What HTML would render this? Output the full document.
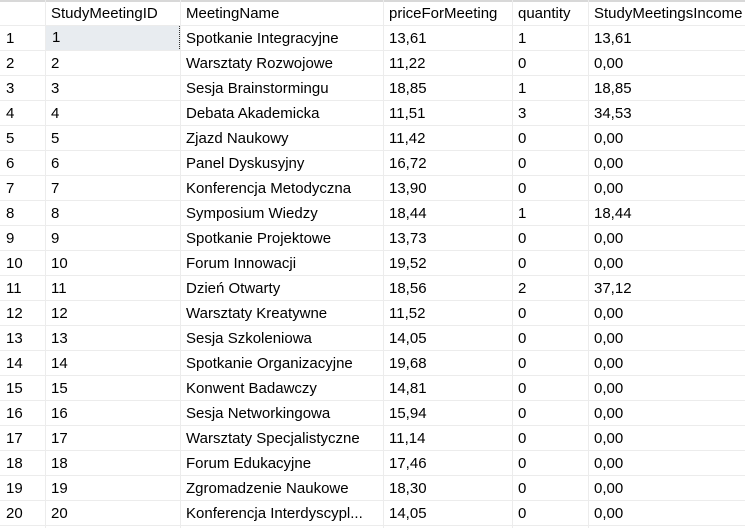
<!DOCTYPE html>
<html><head><meta charset="utf-8"><style>
html,body{margin:0;width:745px;height:528px;overflow:hidden}
body{background:#fff;font-family:"Liberation Sans",sans-serif;font-size:15px;color:#000;position:relative}
.c{position:absolute;height:25px;line-height:25px;white-space:nowrap;overflow:hidden;box-sizing:border-box;padding-left:6px}
.vl{position:absolute;top:0;width:1px;height:528px;background:#ececec}
.hl{position:absolute;left:0;width:745px;height:1px;background:#ececec}
</style></head><body>
<div style="position:absolute;left:0;top:0;width:745px;height:2px;background:#d8d8d8"></div>
<div id="g"></div>
<script>
const headers=["","StudyMeetingID","MeetingName","priceForMeeting","quantity","StudyMeetingsIncome"];
const names=["Spotkanie Integracyjne","Warsztaty Rozwojowe","Sesja Brainstormingu","Debata Akademicka","Zjazd Naukowy","Panel Dyskusyjny","Konferencja Metodyczna","Symposium Wiedzy","Spotkanie Projektowe","Forum Innowacji","Dzień Otwarty","Warsztaty Kreatywne","Sesja Szkoleniowa","Spotkanie Organizacyjne","Konwent Badawczy","Sesja Networkingowa","Warsztaty Specjalistyczne","Forum Edukacyjne","Zgromadzenie Naukowe","Konferencja Interdyscypl..."];
const prices=["13,61","11,22","18,85","11,51","11,42","16,72","13,90","18,44","13,73","19,52","18,56","11,52","14,05","19,68","14,81","15,94","11,14","17,46","18,30","14,05"];
const qty=["1","0","1","3","0","0","0","1","0","0","2","0","0","0","0","0","0","0","0","0"];
const income=["13,61","0,00","18,85","34,53","0,00","0,00","0,00","18,44","0,00","0,00","37,12","0,00","0,00","0,00","0,00","0,00","0,00","0,00","0,00","0,00"];
const colX=[0,45,180,383,512,588,745];
const colNames=["row-number","study-meeting-id","meeting-name","price-for-meeting","quantity","study-meetings-income"];
const g=document.getElementById('g');
for(let i=1;i<6;i++){const v=document.createElement('div');v.className='vl';v.style.left=colX[i]+'px';


document.body.appendChild(v);}
for(let r=0;r<=20;r++){const h=document.createElement('div');h.className='hl';h.style.top=(25+r*25)+'px';


document.body.appendChild(h);}
function cell(txt,c,r,name){const d=document.createElement('div');d.className='c';d.style.left=colX[c]+'px';d.style.width=(colX[c+1]-colX[c])+'px';d.style.top=(r<0?1:26+r*25)+'px';d.textContent=txt;


g.appendChild(d);return d;}
headers.forEach((h,c)=>{if(h)cell(h,c,-1,'header-'+colNames[c]);});
for(let r=0;r<20;r++){
cell(String(r+1),0,r,'row-number');
const idc=cell(String(r+1),1,r,'study-meeting-id-cell');
if(r===0){idc.style.background='#e8ecf0';idc.style.border='1px dotted #333';idc.style.lineHeight='24px';idc.style.paddingLeft='6px';idc.style.top='25px';idc.style.height='26px';}
cell(names[r],2,r,'meeting-name-cell');
cell(prices[r],3,r,'price-cell');
cell(qty[r],4,r,'quantity-cell');
cell(income[r],5,r,'income-cell');
}
</script>
</body></html>
